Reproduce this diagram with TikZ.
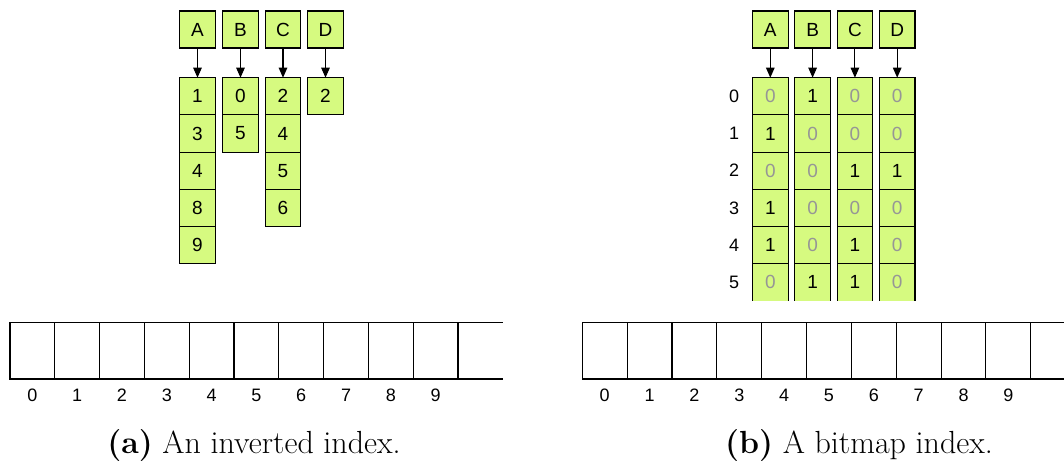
\documentclass[tikz,border=0pt]{standalone}
\usepackage{fontspec}
\setsansfont{Liberation Sans}
\usepackage{tikz}
\usetikzlibrary{arrows.meta, positioning}
\definecolor{Lima}{RGB}{214, 250, 128}
\definecolor{GrisBit}{RGB}{150, 150, 150}
% valor de un bit: los ceros van en gris
\newcommand{\celdabit}[1]{\ifnum#1=0 \textcolor{GrisBit}{0}\else 1\fi}

\begin{document}
\begin{tikzpicture}[x=1pt, y=-1pt,
        clave/.style={rectangle, draw=black, fill=Lima, line width=1.1pt, minimum width=35.5pt, minimum height=37pt, inner sep=0pt, outer sep=0pt, font=\sffamily\fontsize{19}{19}\selectfont},
        celda/.style={clave, minimum height=37.2pt},
        abierta/.style={celda, draw=none},
        ranura/.style={rectangle, draw=black, line width=1.1pt, minimum width=44.8pt, minimum height=56.3pt, inner sep=0pt, outer sep=0pt},
        etiqueta/.style={inner sep=0pt, font=\sffamily\fontsize{18}{18}\selectfont},
        puntero/.style={line width=1.1pt, -{Triangle[length=10pt, width=8.5pt]}},
        borde/.style={line width=1.1pt, draw=black},
        leyenda/.style={inner sep=0pt, anchor=base, font=\fontsize{32}{32}\selectfont}
    ]%
        \useasboundingbox (0,0) rectangle (1064,460);
        % ================= (a) INDICE INVERTIDO =================
        % 1. Claves y listas de posiciones
        \foreach \col/\x/\vals in {A/197.5/{1,3,4,8,9}, B/240.5/{0,5}, C/283/{2,4,5,6}, D/325.5/{2}} {
            \node[clave] (inv\col) at (\x, 29.5) {\col};
            \foreach \v [count=\i from 0] in \vals
                \node[celda] (inv\col-\i) at (\x, 96.3+37.2*\i) {\v};
            \draw[puntero] (inv\col) -- (inv\col-0);
        }
        % 2. Arreglo de filas (la ultima casilla queda abierta)
        \foreach \k in {0,...,9} {
            \node[ranura] (izq-\k) at (32.4+44.8*\k, 350.85) {};
            \node[etiqueta, below=10pt of izq-\k] (nizq-\k) {\k};
        }
        \draw[borde] (izq-9.north east) -- ++(44.8,0);
        \draw[borde] (izq-9.south east) -- ++(44.8,0);
        \node[leyenda] (capa) at (254, 453) {\textbf{(a)} An inverted index.};
        % ================= (b) INDICE DE MAPA DE BITS =================
        % 1. Numeros de fila
        \foreach \r in {0,...,5}
            \node[etiqueta] (fila-\r) at (734, 96.3+37.2*\r) {\r};
        % 2. Claves y columnas de bits (la fila 5 sigue hacia abajo, sin borde inferior)
        \foreach \col/\x/\vals in {A/770.3/{0,1,0,1,1,0}, B/812.6/{1,0,0,0,0,1}, C/854.9/{0,0,1,0,1,1}, D/897.2/{0,0,1,0,0,0}} {
            \node[clave] (bm\col) at (\x, 29.5) {\col};
            \foreach \v [count=\i from 0] in \vals {
                \ifnum\i<5
                    \node[celda] (bm\col-\i) at (\x, 96.3+37.2*\i) {\celdabit{\v}};
                \else
                    \node[abierta] (bm\col-\i) at (\x, 96.3+37.2*\i) {\celdabit{\v}};
                    \draw[borde] (bm\col-\i.south west) -- (bm\col-\i.north west) -- (bm\col-\i.north east) -- (bm\col-\i.south east);
                \fi
            }
            \draw[puntero] (bm\col) -- (bm\col-0);
        }
        % 3. Arreglo de filas (cortado por el borde derecho)
        \foreach \k in {0,...,9} {
            \node[ranura, minimum width=44.85pt] (der-\k) at (604.7+44.85*\k, 350.85) {};
            \node[etiqueta, below=10pt of der-\k] (nder-\k) {\k};
        }
        \draw[borde] (der-9.north east) -- ++(33.2,0);
        \draw[borde] (der-9.south east) -- ++(33.2,0);
        \node[leyenda] (capb) at (859, 453) {\textbf{(b)} A bitmap index.};
    \end{tikzpicture}
\end{document}
